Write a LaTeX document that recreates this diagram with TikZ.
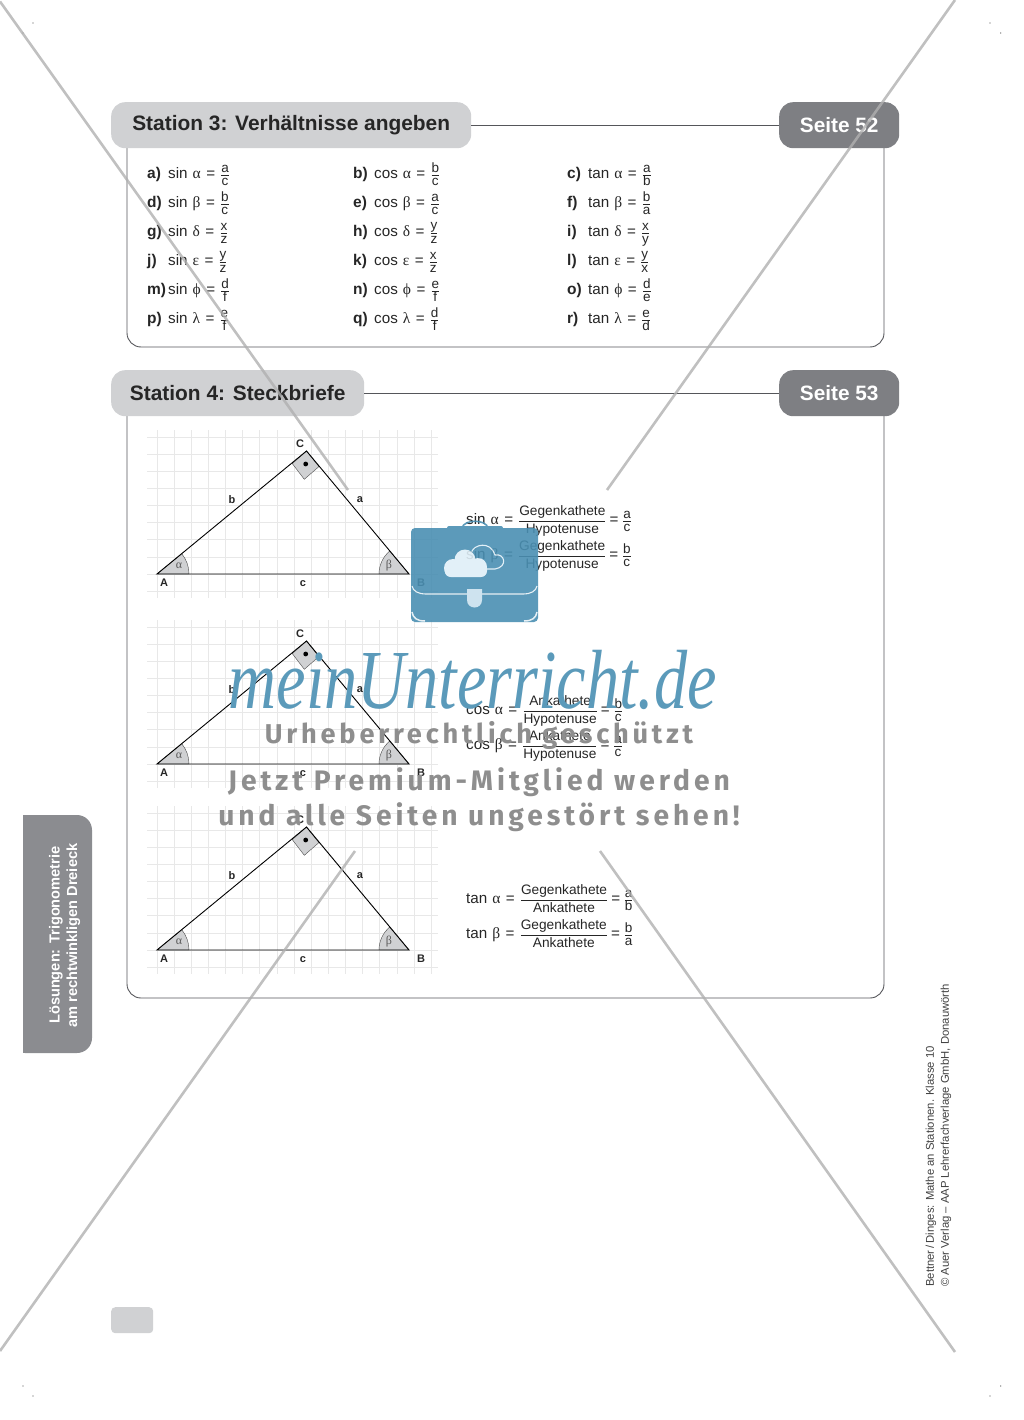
\documentclass[tikz,border=0pt]{standalone}
\usepackage{fontspec}
\setmainfont{Liberation Sans}
\newfontfamily\grkfont{Liberation Serif}
\newfontfamily\markfont[LetterSpace=14]{Fira Sans}
\definecolor{hdrgray}{HTML}{D0D1D3}
\definecolor{pagegray}{HTML}{7E7F83}
\definecolor{tabgray}{HTML}{8B8C90}
\definecolor{rulegray}{HTML}{55565A}
\definecolor{gridgray}{HTML}{E8E8E8}
\definecolor{crossgray}{HTML}{B0B0B0}
\definecolor{markblue}{HTML}{5B9ABA}
\definecolor{casedeep}{HTML}{4A8FB2}
\definecolor{markgray}{HTML}{8E8E8E}
\definecolor{cloudpale}{HTML}{DFEEF7}
\newcommand{\frc}[2]{$\frac{\hbox{\fontsize{13.5}{14}\selectfont\rule[-2pt]{0pt}{2pt}#1}}{\hbox{\fontsize{13.5}{14}\selectfont\rule{0pt}{10pt}#2}}$}
\newcommand{\bfrc}[2]{$\frac{\hbox{\rule[-4.2pt]{0pt}{4.2pt}#1}}{\hbox{\rule{0pt}{12pt}#2}}$}
\newcommand{\eqhead}[2]{#1\hspace{5pt}{\fontsize{15.5}{16}\grkfont #2}\hspace{5.5pt}=\hspace{5pt}}
\tikzset{
	hdrbox/.style={fill=hdrgray,rounded corners=14pt,minimum height=46pt,inner sep=0,font=\fontsize{20.9}{24}\selectfont\bfseries,text=black!85},
	pagebox/.style={fill=pagegray,rounded corners=14pt,minimum width=120pt,minimum height=46pt,inner sep=0,font=\fontsize{20.8}{24}\selectfont\bfseries,text=white},
	rulefine/.style={draw=rulegray,line width=0.9pt},
	lbltxt/.style={anchor=base west,inner sep=0,font=\fontsize{15.5}{16}\selectfont\bfseries,text=black!85},
	fmltxt/.style={anchor=base west,inner sep=0,font=\fontsize{15.2}{16}\selectfont,text=black!85},
	ptlabel/.style={inner sep=0,font=\fontsize{11}{12}\selectfont\bfseries,text=black!85},
	anglelabel/.style={inner sep=0,text=black!65,font=\fontsize{12}{14}\grkfont},
	anglefill/.style={fill=hdrgray,draw=black!70,line width=0.4pt},
	sidetxt/.style={anchor=west,rotate=90,inner sep=0,text=white,font=\fontsize{14.6}{15}\selectfont\bfseries},
	imprint/.style={anchor=west,rotate=90,inner sep=0,text=black!75,font=\fontsize{11.3}{12}\selectfont},
	crossline/.style={draw=crossgray,line width=2.6pt,opacity=.8},
	marktxt/.style={inner sep=0,text=markgray,font=\fontsize{28.2}{32}\markfont\bfseries\selectfont},
}
\begin{document}
\begin{tikzpicture}[x=1pt,y=-1pt]
\useasboundingbox (0,0) rectangle (1024,1420);
\draw[rulefine,rounded corners=14pt] (127,140) -- (127,347) -- (884,347) -- (884,140);
\draw[rulefine,rounded corners=14pt] (127,410) -- (127,998) -- (884,998) -- (884,410);
\node[hdrbox,anchor=north west,minimum width=360pt] (hdrsta) at (111,102) {Station 3: Verhältnisse angeben\hspace{5pt}};
\node[pagebox,anchor=north west] (pagesta) at (779,102) {Seite 52};
\draw[rulefine] (hdrsta.east) -- (pagesta.west);
\node[hdrbox,anchor=north west,minimum width=253pt] (hdrstb) at (111,370) {Station 4: Steckbriefe};
\node[pagebox,anchor=north west] (pagestb) at (779,370) {Seite 53};
\draw[rulefine] (hdrstb.east) -- (pagestb.west);
\foreach \nm/\colx/\rowy/\fnc/\grk/\num/\den in {
	a/147/174/sin/α/a/c, b/353/174/cos/α/b/c, c/567/174/tan/α/a/b,
	d/147/203/sin/β/b/c, e/353/203/cos/β/a/c, f/567/203/tan/β/b/a,
	g/147/232/sin/δ/x/z, h/353/232/cos/δ/y/z, i/567/232/tan/δ/x/y,
	j/147/261/sin/ε/y/z, k/353/261/cos/ε/x/z, l/567/261/tan/ε/y/x,
	m/147/290/sin/ϕ/d/f, n/353/290/cos/ϕ/e/f, o/567/290/tan/ϕ/d/e,
	p/147/319/sin/λ/e/f, q/353/319/cos/λ/d/f, r/567/319/tan/λ/e/d}{
	\node[lbltxt] (lbl\nm) at (\colx,\rowy+4.6) {\nm)};
	\node[fmltxt] (fml\nm) at (\colx+21,\rowy+4.6) {\eqhead{\fnc}{\grk}\frc{\num}{\den}};
}
\foreach \tn/\by in {p/574,q/764,r/950}{
	\foreach \k in {-8,...,1} \draw[gridgray,line width=0.6pt] (147,\by+\k*17.13) -- (438,\by+\k*17.13);
	\foreach \k in {0,...,16} \draw[gridgray,line width=0.6pt] (157+\k*17.13,\by-144) -- (157+\k*17.13,\by+24);
	\coordinate (A\tn) at (157,\by);
	\coordinate (B\tn) at (409,\by);
	\coordinate (C\tn) at (306.5,\by-123);
	\fill[anglefill] (A\tn) -- ++(32,0) arc[start angle=0,end angle=39.5,radius=32pt] -- cycle;
	\fill[anglefill] (B\tn) -- ++(-30,0) arc[start angle=180,end angle=130,radius=30pt] -- cycle;
	\filldraw[anglefill] (C\tn) -- ++(-14.2,12.6) -- ++(12,15.7) -- ++(14.6,-12.7) -- cycle;
	\fill[black] (305.7,\by-110) circle[radius=2.4pt];
	\draw[black,line width=0.9pt] (A\tn) -- (B\tn) -- (C\tn) -- cycle;
	\node[ptlabel] (ltr\tn c) at (300,\by-130) {C};
	\node[ptlabel] (ltr\tn a) at (164,\by+9) {A};
	\node[ptlabel] (ltr\tn b) at (421,\by+9) {B};
	\node[ptlabel] (sd\tn c) at (303,\by+10) {c};
	\node[ptlabel] (sd\tn b) at (232,\by-74) {b};
	\node[ptlabel] (sd\tn a) at (360,\by-74) {a};
	\node[anglelabel] (ang\tn a) at (179,\by-8) {α};
	\node[anglelabel] (ang\tn b) at (389,\by-8) {β};
}
\foreach \nm/\rowy/\fnc/\grk/\top/\bot/\num/\den in {
	sa/520/sin/α/Gegenkathete/Hypotenuse/a/c,
	sb/555/sin/β/Gegenkathete/Hypotenuse/b/c,
	ca/710/cos/α/Ankathete/Hypotenuse/b/c,
	cb/745/cos/β/Ankathete/Hypotenuse/a/c,
	ta/899/tan/α/Gegenkathete/Ankathete/a/b,
	tb/934/tan/β/Gegenkathete/Ankathete/b/a}{
	\node[fmltxt,font=\fontsize{13.7}{16}\selectfont] (eq\nm) at (466,\rowy+4.3) {{\fontsize{15.2}{16}\selectfont\eqhead{\fnc}{\grk}}\bfrc{\top}{\bot}\hspace{3pt}{\fontsize{15.2}{16}\selectfont =}\hspace{3.6pt}\frc{\num}{\den}};
}
\draw[fill=tabgray,draw=none,rounded corners=15pt] (10,815) -- (92,815) -- (92,1053) -- (10,1053) -- cycle;
\fill[white] (0,800) rectangle (23,1070);
\node[sidetxt] (tabtop) at (56,1024) {Lösungen: Trigonometrie};
\node[sidetxt] (tabbot) at (73.5,1028) {am rechtwinkligen Dreieck};
\node[imprint] (imprtop) at (931,1287) {Bettner\,/\,Dinges: Mathe an Stationen. Klasse 10};
\node[imprint] (imprbot) at (946,1287) {© Auer Verlag – AAP Lehrerfachverlage GmbH, Donauwörth};
\node[fill=hdrgray,rounded corners=4pt,minimum width=42pt,minimum height=26pt,inner sep=0,anchor=north west] (pageno) at (111,1307) {};
\foreach \mx/\my in {33/23,23/33,990/23,1000.7/33,23/1386,33/1396,1000.7/1386,990/1396} \fill[black!70] (\mx,\my) circle[radius=0.6pt];
\coordinate (xa) at (0,1.5); \coordinate (xb) at (348,490);
\coordinate (xc) at (955,0); \coordinate (xd) at (607,490);
\coordinate (xe) at (0,1351); \coordinate (xf) at (355,851);
\coordinate (xg) at (600,851); \coordinate (xh) at (955,1352);
\draw[crossline] (xa) -- (xb);
\draw[crossline] (xc) -- (xd);
\draw[crossline] (xe) -- (xf);
\draw[crossline] (xg) -- (xh);
\begin{scope}[transparency group,opacity=.9]
\fill[casedeep,rounded corners=4pt] (411,528) rectangle (538,622);
\fill[casedeep,rounded corners=2pt] (447,526) rectangle (503,532);
\draw[casedeep,line width=1.6pt] (462,528) .. controls (464,519) and (486,519) .. (488,528);
\draw[cloudpale,line width=1.1pt] (471.7,551.7) .. controls (474,545) and (490,540) .. (495,555) .. controls (505,553) and (508,567) .. (495,569) -- (487,569);
\fill[cloudpale] (453,568) circle[radius=9pt] (465,560) circle[radius=10.5pt] (478,567) circle[radius=9pt];
\fill[cloudpale,rounded corners=6pt] (444.7,563) rectangle (487,577);
\draw[white!85!casedeep,line width=1.1pt] (412,586) .. controls (413,591) and (418,594) .. (426,594) -- (523,594) .. controls (531,594) and (536,591) .. (537,586);
\draw[white!85!casedeep,line width=1.5pt] (412,612) .. controls (413,618) and (417,621) .. (425,621);
\draw[white!85!casedeep,line width=1.5pt] (537,612) .. controls (536,618) and (532,621) .. (524,621);
\fill[cloudpale!85!casedeep] (467,589) -- (482,589) -- (482,600) .. controls (482,610) and (467,610) .. (467,600) -- cycle;
\end{scope}
\node[inner sep=0,text=markblue,transform shape,xscale=.79,font=\fontsize{84}{90}\grkfont\itshape] (brand) at (473,680) {meinUnterricht.de};
\node[marktxt,font=\fontsize{27.2}{32}\markfont\bfseries\selectfont] (markone) at (479,735) {Urheberrechtlich geschützt};
\node[marktxt] (marktwo) at (479,782) {Jetzt Premium-Mitglied werden};
\node[marktxt] (markthr) at (479,817) {und alle Seiten ungestört sehen!};
\end{tikzpicture}
\end{document}
